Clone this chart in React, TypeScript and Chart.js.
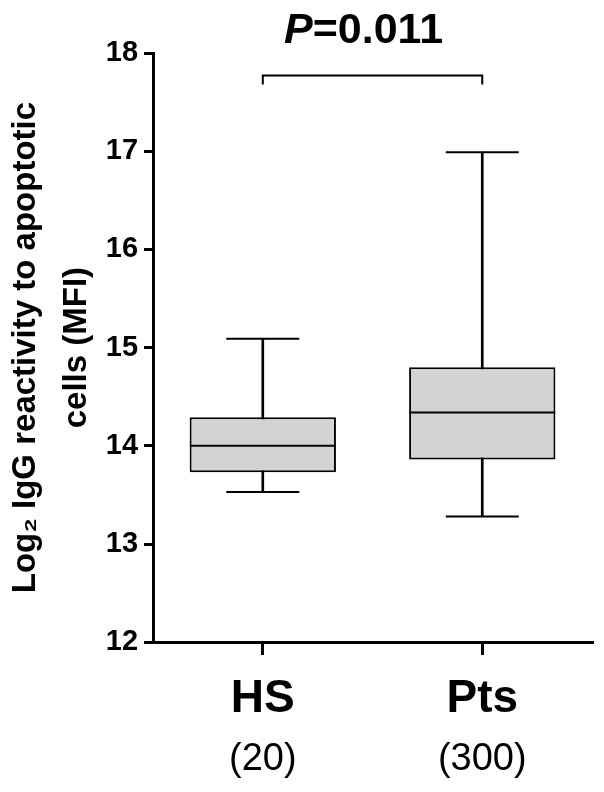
import React, { useEffect, useRef } from 'react';
import { Chart, registerables } from 'chart.js';

Chart.register(...registerables);

// ---- data ----
const categories = ['HS', 'Pts'];
const groupSizes = ['(20)', '(300)'];
const whiskerMin = [13.53, 13.28];
const q1 = [13.73, 13.86];
const median = [14.0, 14.34];
const q3 = [14.29, 14.8];
const whiskerMax = [15.09, 16.99];
const yTicks = [12, 13, 14, 15, 16, 17, 18];
const yTitle = ['Log\u2082 IgG reactivity to apoptotic', 'cells (MFI)'];
const pItalic = 'P';
const pRest = '=0.011';
const bracketValue = 17.77;
const bracketEndValue = 17.68;

const FONT = '"Liberation Sans", Arial, Helvetica, sans-serif';

const annotatePlugin = {
  id: 'pAnnotation',
  afterDraw(chart: any) {
    const { ctx, scales } = chart;
    const x = scales.x;
    const y = scales.y;
    const x0 = x.getPixelForValue(0);
    const x1 = x.getPixelForValue(1);
    const yb = y.getPixelForValue(bracketValue);
    const ye = y.getPixelForValue(bracketEndValue);
    ctx.save();
    ctx.strokeStyle = '#000';
    ctx.lineWidth = 2;
    ctx.beginPath();
    ctx.moveTo(x0, ye);
    ctx.lineTo(x0, yb);
    ctx.lineTo(x1, yb);
    ctx.lineTo(x1, ye);
    ctx.stroke();

    const fItalic = `italic bold 43px ${FONT}`;
    const fBold = `bold 43px ${FONT}`;
    ctx.font = fItalic;
    const wP = ctx.measureText(pItalic).width;
    ctx.font = fBold;
    const wR = ctx.measureText(pRest).width;
    const cx = (x0 + x1) / 2 - 9;
    const left = cx - (wP + wR) / 2;
    const base = chart.chartArea.top - 10.5;
    ctx.fillStyle = '#000';
    ctx.textAlign = 'left';
    ctx.textBaseline = 'alphabetic';
    ctx.font = fItalic;
    ctx.fillText(pItalic, left, base);
    ctx.font = fBold;
    ctx.fillText(pRest, left + wP, base);
    ctx.restore();
  },
};

export default function App() {
  const ref = useRef<HTMLCanvasElement | null>(null);

  useEffect(() => {
    if (!ref.current) return;
    const chart = new Chart(ref.current, {
      type: 'bar',
      data: {
        labels: categories,
        datasets: [
          {
            type: 'line',
            label: 'median',
            data: median,
            showLine: false,
            pointStyle: 'line',
            pointRadius: 73,
            pointHoverRadius: 73,
            pointBorderWidth: 2,
            pointBorderColor: '#000',
            pointBackgroundColor: '#000',
            borderColor: '#000',
            clip: false,
            order: 1,
          } as any,
          {
            type: 'line',
            label: 'max',
            data: whiskerMax,
            showLine: false,
            pointStyle: 'line',
            pointRadius: 36.5,
            pointHoverRadius: 36.5,
            pointBorderWidth: 2,
            pointBorderColor: '#000',
            borderColor: '#000',
            clip: false,
            order: 1,
          } as any,
          {
            type: 'line',
            label: 'min',
            data: whiskerMin,
            showLine: false,
            pointStyle: 'line',
            pointRadius: 36.5,
            pointHoverRadius: 36.5,
            pointBorderWidth: 2,
            pointBorderColor: '#000',
            borderColor: '#000',
            clip: false,
            order: 1,
          } as any,
          {
            label: 'box',
            data: categories.map((_, i) => [q1[i], q3[i]]),
            backgroundColor: '#d3d3d3',
            borderColor: '#000',
            borderWidth: 2,
            borderSkipped: false,
            barPercentage: 2 / 3,
            categoryPercentage: 1,
            grouped: false,
            order: 2,
          } as any,
          {
            label: 'whisker',
            data: categories.map((_, i) => [whiskerMin[i], whiskerMax[i]]),
            backgroundColor: '#000',
            borderWidth: 0,
            barThickness: 2,
            grouped: false,
            order: 3,
          } as any,
        ],
      },
      options: {
        animation: false,
        responsive: false,
        devicePixelRatio: 1,
        layout: { autoPadding: false, padding: { top: 53, right: 12, bottom: 1, left: 0 } },
        plugins: {
          legend: { display: false },
          tooltip: { enabled: false },
        },
        scales: {
          x: {
            type: 'category',
            position: 'bottom',
            weight: 0,
            offset: true,
            border: { display: true, color: '#000', width: 3 },
            grid: {
              display: true,
              offset: false,
              drawOnChartArea: false,
              drawTicks: true,
              tickLength: 30,
              tickBorderDash: [11, 200],
              color: '#000',
              lineWidth: 3,
            },
            ticks: {
              color: '#000',
              padding: 0,
              font: { family: FONT, size: 46, weight: 'bold' },
            },
          },
          x2: {
            type: 'category',
            position: 'bottom',
            weight: 1,
            offset: true,
            labels: groupSizes,
            border: { display: false },
            grid: { display: false, drawTicks: false, drawOnChartArea: false },
            ticks: {
              color: '#000',
              padding: 9,
              font: { family: FONT, size: 38, weight: 'normal' },
            },
          },
          y: {
            min: 12,
            max: 18,
            afterBuildTicks: (scale: any) => {
              scale.ticks = yTicks.map((v) => ({ value: v }));
            },
            border: { display: true, color: '#000', width: 3 },
            grid: {
              display: true,
              drawOnChartArea: false,
              drawTicks: true,
              tickLength: 9,
              color: '#000',
              lineWidth: 3,
            },
            ticks: {
              color: '#000',
              padding: 6,
              font: { family: FONT, size: 29, weight: 'bold' },
            },
            title: {
              display: true,
              text: yTitle,
              color: '#000',
              padding: { top: 0, bottom: -2.5 },
              font: { family: FONT, size: 33, weight: 'bold', lineHeight: 1.55 },
            },
          },
        },
      } as any,
      plugins: [annotatePlugin],
    });
    return () => chart.destroy();
  }, []);

  return (
    <div
      style={{
        position: 'fixed',
        left: 0,
        top: 0,
        width: 604,
        height: 792,
        background: '#fff',
      }}
    >
      <canvas ref={ref} width={604} height={792} />
    </div>
  );
}
